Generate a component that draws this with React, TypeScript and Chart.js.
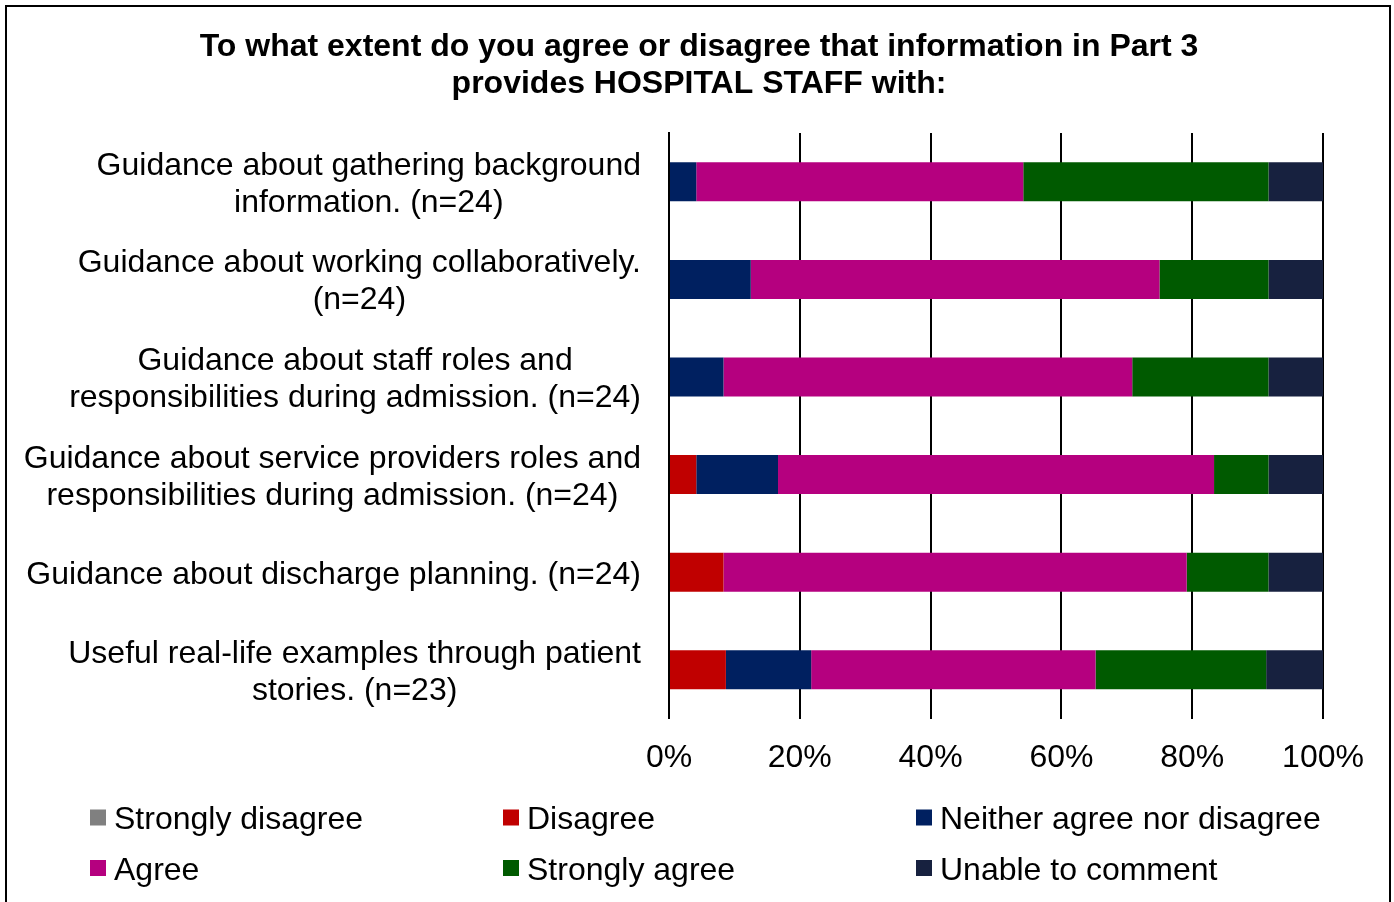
import React, { useEffect, useRef } from "react";
import { Chart, registerables } from "chart.js";

Chart.register(...registerables);

const titleLines = [
  "To what extent do you agree or disagree that information in Part 3",
  "provides HOSPITAL STAFF with:",
];

const categories: string[][] = [
  ["Guidance about gathering background", "information. (n=24)"],
  ["Guidance about working collaboratively.", "(n=24)"],
  ["Guidance about staff roles and", "responsibilities during admission. (n=24)"],
  ["Guidance about service providers roles and", "responsibilities during admission. (n=24)"],
  ["Guidance about discharge planning. (n=24)"],
  ["Useful real-life examples through patient", "stories. (n=23)"],
];

const stronglyDisagree = [0, 0, 0, 0, 0, 0];
const disagree = [0, 0, 0, 4.17, 8.33, 8.7];
const neither = [4.17, 12.5, 8.33, 12.5, 0, 13.04];
const agree = [50, 62.5, 62.5, 66.67, 70.83, 43.48];
const stronglyAgree = [37.5, 16.67, 20.83, 8.33, 12.5, 26.09];
const unable = [8.33, 8.33, 8.34, 8.33, 8.34, 8.69];

const seriesNames = [
  "Strongly disagree",
  "Disagree",
  "Neither agree nor disagree",
  "Agree",
  "Strongly agree",
  "Unable to comment",
];
const seriesColors = ["#808080", "#C00000", "#002060", "#B5007F", "#005A00", "#17213F"];
const seriesData = [stronglyDisagree, disagree, neither, agree, stronglyAgree, unable];

const FONT = "'Liberation Sans', Arial, sans-serif";

const customPlugin = {
  id: "customText",
  afterDraw(chart: any) {
    const ctx = chart.ctx;
    const area = chart.chartArea;
    const yScale = chart.scales.y;
    ctx.save();
    // frame
    ctx.strokeStyle = "#000";
    ctx.lineWidth = 2;
    ctx.strokeRect(6, 6, 1384, 920);
    // title
    ctx.fillStyle = "#000";
    ctx.font = `bold 32px ${FONT}`;
    ctx.textAlign = "center";
    ctx.textBaseline = "alphabetic";
    titleLines.forEach((t, i) => ctx.fillText(t, 699, 56 + i * 37));
    // category labels
    ctx.font = `32px ${FONT}`;
    const rightEdge = area.left - 28;
    categories.forEach((lines, i) => {
      const cy = yScale.getPixelForValue(i);
      const w = Math.max(...lines.map((l) => ctx.measureText(l).width));
      const cx = rightEdge - w / 2;
      const n = lines.length;
      lines.forEach((l, j) => {
        const lineCenter = cy + (j - (n - 1) / 2) * 37;
        ctx.fillText(l, cx, lineCenter + 11.5);
      });
    });
    // legend
    const cols = [90, 503, 916];
    const rows = [817.5, 868];
    ctx.textAlign = "left";
    chart.data.datasets.forEach((ds: any, i: number) => {
      const x = cols[i % 3];
      const y = rows[Math.floor(i / 3)];
      ctx.fillStyle = ds.backgroundColor;
      ctx.fillRect(x, y - 8, 16, 16);
      ctx.fillStyle = "#000";
      ctx.fillText(ds.label, x + 24, y + 11.5);
    });
    ctx.restore();
  },
};

export default function App() {
  const ref = useRef<HTMLCanvasElement>(null);
  useEffect(() => {
    if (!ref.current) return;
    const chart = new Chart(ref.current, {
      type: "bar",
      data: {
        labels: categories.map((c) => c.join(" ")),
        datasets: seriesNames.map((name, i) => ({
          label: name,
          data: seriesData[i],
          backgroundColor: seriesColors[i],
          borderWidth: 0,
          barPercentage: 0.4,
          categoryPercentage: 1,
        })),
      },
      options: {
        indexAxis: "y",
        animation: false,
        responsive: false,
        devicePixelRatio: 1,
        layout: { padding: { left: 669, right: 71, top: 133, bottom: 105 } },
        plugins: {
          legend: { display: false },
          title: { display: false },
          tooltip: { enabled: false },
        },
        scales: {
          x: {
            stacked: true,
            min: 0,
            max: 100,
            ticks: {
              stepSize: 20,
              callback: (v: any) => v + "%",
              font: { family: FONT, size: 32 },
              color: "#000",
              padding: 20,
            },
            grid: { color: "#000", lineWidth: 2, drawTicks: false },
            border: { display: false },
          },
          y: {
            stacked: true,
            ticks: { display: false },
            grid: { display: false, drawTicks: false },
            border: { display: true, color: "#000", width: 2 },
          },
        },
      },
      plugins: [customPlugin],
    });
    return () => chart.destroy();
  }, []);
  return (
    <div style={{ position: "fixed", left: 0, top: 0, width: 1394, height: 902, background: "#fff" }}>
      <canvas ref={ref} width={1394} height={902} style={{ width: 1394, height: 902 }} />
    </div>
  );
}
